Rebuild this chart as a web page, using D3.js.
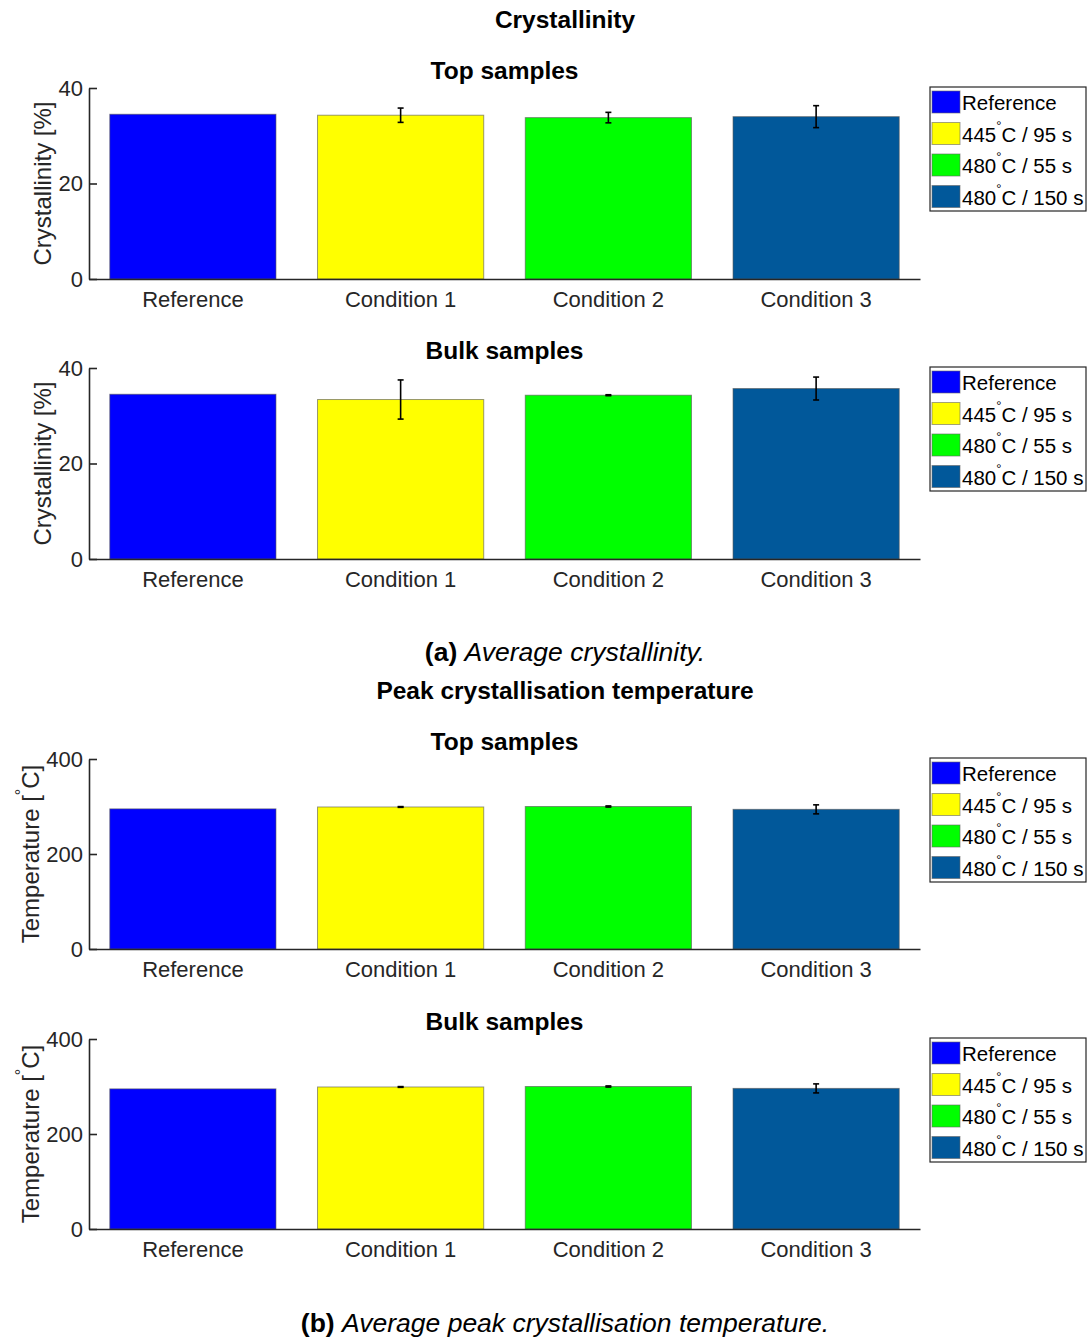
<html><head>
<script src="https://d3js.org/d3.v7.min.js"></script>
<style>
  body { margin: 0; background: #fff; }
  text { font-family: "Liberation Sans", Arial, sans-serif; }
</style>
</head>
<body>
<svg id="fig" width="1089" height="1339"></svg>
<script>
// data
const categories = ["Reference", "Condition 1", "Condition 2", "Condition 3"];
const legendMain = ["Reference", "445", "480", "480"];
const legendTail = ["", "C / 95 s", "C / 55 s", "C / 150 s"];
const barColors = ["#0000ff", "#ffff00", "#00ff00", "#01589a"];

const cryTopMean = [34.5, 34.3, 33.8, 34.0];
const cryTopErr = [0, 1.5, 1.1, 2.3];
const cryBulkMean = [34.5, 33.4, 34.3, 35.7];
const cryBulkErr = [0, 4.1, 0.1, 2.4];
const tempTopMean = [295, 299, 300, 294];
const tempTopErr = [0, 0.8, 1.2, 9.5];
const tempBulkMean = [295, 299, 300, 296];
const tempBulkErr = [0, 0.8, 1.2, 9.5];

const cryTicks = [0, 20, 40];
const tempTicks = [0, 200, 400];

const svg = d3.select("svg#fig");
const axisColor = "#262626";
const left = 89, right = 920;

const panels = [
  {title: "Top samples", mean: cryTopMean, err: cryTopErr, max: 40, ticks: cryTicks, top: 88, bottom: 279, ylab: "Crystallinity [%]", deg: false},
  {title: "Bulk samples", mean: cryBulkMean, err: cryBulkErr, max: 40, ticks: cryTicks, top: 368, bottom: 559, ylab: "Crystallinity [%]", deg: false},
  {title: "Top samples", mean: tempTopMean, err: tempTopErr, max: 400, ticks: tempTicks, top: 759, bottom: 949, ylab: "Temperature [", deg: true},
  {title: "Bulk samples", mean: tempBulkMean, err: tempBulkErr, max: 400, ticks: tempTicks, top: 1039, bottom: 1229, ylab: "Temperature [", deg: true}
];

// big titles and captions
svg.append("text").attr("x", 565).attr("y", 28).attr("text-anchor", "middle")
   .attr("font-size", 24.5).attr("font-weight", "bold").text("Crystallinity");
svg.append("text").attr("x", 565).attr("y", 699).attr("text-anchor", "middle")
   .attr("font-size", 24.5).attr("font-weight", "bold").text("Peak crystallisation temperature");

let capA = svg.append("text").attr("x", 565).attr("y", 661).attr("text-anchor", "middle").attr("font-size", 26.5);
capA.append("tspan").attr("font-weight", "bold").text("(a) ");
capA.append("tspan").attr("font-style", "italic").text("Average crystallinity.");
let capB = svg.append("text").attr("x", 565).attr("y", 1332).attr("text-anchor", "middle").attr("font-size", 26.5);
capB.append("tspan").attr("font-weight", "bold").text("(b) ");
capB.append("tspan").attr("font-style", "italic").text("Average peak crystallisation temperature.");

panels.forEach(p => {
  const x = d3.scaleBand().domain(categories).range([left, right]).paddingInner(0.2).paddingOuter(0.1);
  const y = d3.scaleLinear().domain([0, p.max]).range([p.bottom, p.top]);
  const g = svg.append("g");

  // subtitle
  g.append("text").attr("x", (left + right) / 2).attr("y", p.top - 9).attr("text-anchor", "middle")
   .attr("font-size", 24.5).attr("font-weight", "bold").text(p.title);

  // bars
  g.selectAll("rect.bar").data(categories).enter().append("rect")
   .attr("class", "bar")
   .attr("x", d => x(d))
   .attr("width", x.bandwidth())
   .attr("y", (d, i) => y(p.mean[i]))
   .attr("height", (d, i) => y(0) - y(p.mean[i]))
   .attr("fill", (d, i) => barColors[i])
   .attr("stroke", "#555").attr("stroke-opacity", 0.6).attr("stroke-width", 1);

  // error bars
  categories.forEach((c, i) => {
    if (p.err[i] <= 0) return;
    const cx = x(c) + x.bandwidth() / 2;
    const y1 = y(p.mean[i] + p.err[i]), y2 = y(p.mean[i] - p.err[i]);
    g.append("line").attr("x1", cx).attr("x2", cx).attr("y1", y1).attr("y2", y2)
     .attr("stroke", "#000").attr("stroke-width", 1.6);
    [y1, y2].forEach(yy => {
      g.append("line").attr("x1", cx - 3).attr("x2", cx + 3).attr("y1", yy).attr("y2", yy)
       .attr("stroke", "#000").attr("stroke-width", 1.6);
    });
  });

  // y axis
  const yAxis = d3.axisLeft(y).tickValues(p.ticks).tickSizeInner(-8).tickSizeOuter(0).tickPadding(6);
  const ya = g.append("g").attr("transform", "translate(" + left + ",0)").call(yAxis);
  ya.select(".domain").attr("stroke", axisColor).attr("stroke-width", 1.6);
  ya.selectAll(".tick line").attr("stroke", axisColor).attr("stroke-width", 1.6);
  ya.selectAll(".tick text").attr("fill", axisColor).attr("font-size", 22)
    .attr("font-family", "Liberation Sans, Arial, sans-serif");

  // x axis
  const xAxis = d3.axisBottom(x).tickSize(0).tickPadding(12);
  const xa = g.append("g").attr("transform", "translate(0," + p.bottom + ")").call(xAxis);
  xa.select(".domain").attr("stroke", axisColor).attr("stroke-width", 1.6);
  xa.selectAll(".tick text").attr("fill", axisColor).attr("font-size", 22)
    .attr("font-family", "Liberation Sans, Arial, sans-serif");

  // y label
  const cy = (p.top + p.bottom) / 2;
  const lx = p.deg ? 39 : 51;
  let yl = g.append("text").attr("transform", "translate(" + lx + "," + cy + ") rotate(-90)")
   .attr("text-anchor", "middle").attr("font-size", 24).attr("fill", axisColor);
  if (p.deg) {
    yl.append("tspan").text(p.ylab);
    yl.append("tspan").attr("font-size", 16).attr("dy", -12).text("°");
    yl.append("tspan").attr("dy", 12).text("C]");
  } else {
    yl.text(p.ylab);
  }

  // legend
  const lg = g.append("g").attr("transform", "translate(930," + (p.top - 1) + ")");
  lg.append("rect").attr("width", 156).attr("height", 124).attr("fill", "#fff")
    .attr("stroke", axisColor).attr("stroke-width", 1.2);
  categories.forEach((c, i) => {
    const yy = 4 + i * 31.5;
    lg.append("rect").attr("x", 2).attr("y", yy).attr("width", 28).attr("height", 22)
      .attr("fill", barColors[i]).attr("stroke", "#666").attr("stroke-opacity", 0.6);
    let t = lg.append("text").attr("x", 32).attr("y", yy + 19).attr("font-size", 20.5).attr("fill", "#000");
    t.append("tspan").text(legendMain[i]);
    if (legendTail[i]) {
      t.append("tspan").attr("font-size", 13).attr("dy", -12).text("°");
      t.append("tspan").attr("dy", 12).text(legendTail[i]);
    }
  });
});
</script>
</body>
</html>
